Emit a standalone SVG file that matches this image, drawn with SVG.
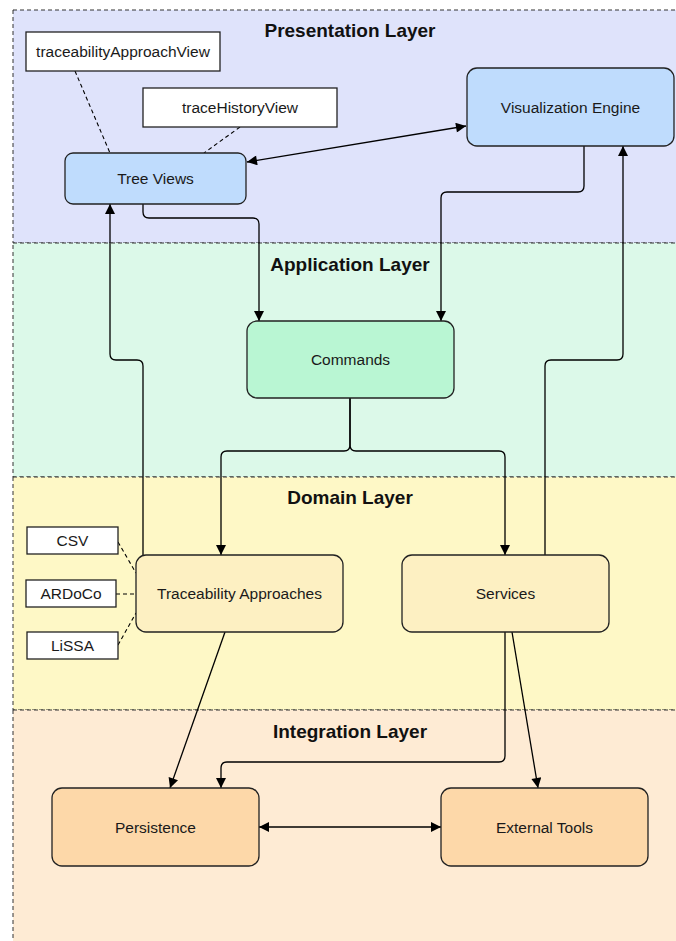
<svg xmlns="http://www.w3.org/2000/svg" width="676" height="941" viewBox="0 0 676 941">
  <style>
    .layer { stroke: #333; stroke-width: 1; stroke-dasharray: 4 3; }
    .title { font-family: "Liberation Sans", Arial, sans-serif; font-size: 19px; font-weight: bold; fill: #111; text-anchor: middle; }
    .node { stroke: #222; stroke-width: 1.3; }
    .label { font-family: "Liberation Sans", Arial, sans-serif; font-size: 15.5px; fill: #1a1a1a; text-anchor: middle; dominant-baseline: central; }
    .note { fill: #fff; stroke: #222; stroke-width: 1.3; }
    .edge { fill: none; stroke: #000; stroke-width: 1.3; }
    .dash { fill: none; stroke: #000; stroke-width: 1.1; stroke-dasharray: 4 3; }
    .blue { fill: #bfdcfd; }
    .green { fill: #b9f6d3; }
    .yellow { fill: #fdf0c2; }
    .orange { fill: #fdd8a9; }
  </style>
  <defs>
    <marker id="arrow" viewBox="0 0 10 10" refX="10" refY="5" markerWidth="12" markerHeight="10" markerUnits="userSpaceOnUse" orient="auto-start-reverse">
      <path d="M0,0 L10,5 L0,10 z" fill="#000"/>
    </marker>
  </defs>

  <!-- layer bands -->
  <g id="layers">
    <rect class="layer" x="13" y="10" width="700" height="233" fill="#dfe3fb"/>
    <rect class="layer" x="13" y="243" width="700" height="234" fill="#dcf9e9"/>
    <rect class="layer" x="13" y="477" width="700" height="233" fill="#fef8c6"/>
    <rect class="layer" x="13" y="710" width="700" height="240" fill="#feebd4"/>
    <text class="title" x="350" y="37">Presentation Layer</text>
    <text class="title" x="350" y="271">Application Layer</text>
    <text class="title" x="350" y="504">Domain Layer</text>
    <text class="title" x="350" y="738">Integration Layer</text>
  </g>

  <!-- connectors -->
  <g id="connectors">
    <line class="dash" x1="75" y1="71" x2="110" y2="153"/>
    <line class="dash" x1="240" y1="127" x2="204" y2="153"/>
    <line class="dash" x1="118" y1="542" x2="136" y2="573"/>
    <line class="dash" x1="116" y1="594" x2="136" y2="594"/>
    <line class="dash" x1="118" y1="645" x2="136" y2="613"/>

    <path class="edge" d="M247,162 L466,126" marker-start="url(#arrow)" marker-end="url(#arrow)"/>
    <path class="edge" d="M143,204 V212 Q143,218 149,218 H253 Q259,218 259,224 V321" marker-end="url(#arrow)"/>
    <path class="edge" d="M584,146 V186 Q584,192 578,192 H447 Q441,192 441,198 V321" marker-end="url(#arrow)"/>
    <path class="edge" d="M350,398 V445 Q350,451 344,451 H227 Q221,451 221,457 V555" marker-end="url(#arrow)"/>
    <path class="edge" d="M350,398 V445 Q350,451 356,451 H499 Q505,451 505,457 V555" marker-end="url(#arrow)"/>
    <path class="edge" d="M143,555 V366 Q143,360 137,360 H116 Q110,360 110,354 V204" marker-end="url(#arrow)"/>
    <path class="edge" d="M545,555 V366 Q545,360 551,360 H617 Q623,360 623,354 V146" marker-end="url(#arrow)"/>
    <path class="edge" d="M225,632 L170,788" marker-end="url(#arrow)"/>
    <path class="edge" d="M505,632 V756 Q505,762 499,762 H227 Q221,762 221,768 V788" marker-end="url(#arrow)"/>
    <path class="edge" d="M512,632 L538,788" marker-end="url(#arrow)"/>
    <path class="edge" d="M259,827 H441" marker-start="url(#arrow)" marker-end="url(#arrow)"/>
  </g>

  <!-- presentation layer nodes -->
  <g id="traceabilityApproachView">
    <rect class="note" x="26" y="32" width="194" height="39"/>
    <text class="label" x="123" y="51.5">traceabilityApproachView</text>
  </g>
  <g id="traceHistoryView">
    <rect class="note" x="143" y="88" width="194" height="39"/>
    <text class="label" x="240" y="107.5">traceHistoryView</text>
  </g>
  <g id="tree-views">
    <rect class="node blue" x="65" y="153" width="181" height="51" rx="8"/>
    <text class="label" x="155.5" y="178.5">Tree Views</text>
  </g>
  <g id="visualization-engine">
    <rect class="node blue" x="467" y="68" width="207" height="78" rx="10"/>
    <text class="label" x="570.5" y="107">Visualization Engine</text>
  </g>

  <!-- application layer nodes -->
  <g id="commands">
    <rect class="node green" x="247" y="321" width="207" height="77" rx="10"/>
    <text class="label" x="350.5" y="359.5">Commands</text>
  </g>

  <!-- domain layer nodes -->
  <g id="csv">
    <rect class="note" x="27" y="527" width="91" height="27"/>
    <text class="label" x="72.5" y="540.5">CSV</text>
  </g>
  <g id="ardoco">
    <rect class="note" x="26" y="580" width="90" height="27"/>
    <text class="label" x="71" y="593.5">ARDoCo</text>
  </g>
  <g id="lissa">
    <rect class="note" x="27" y="632" width="91" height="27"/>
    <text class="label" x="72.5" y="645.5">LiSSA</text>
  </g>
  <g id="traceability-approaches">
    <rect class="node yellow" x="136" y="555" width="207" height="77" rx="10"/>
    <text class="label" x="239.5" y="593.5">Traceability Approaches</text>
  </g>
  <g id="services">
    <rect class="node yellow" x="402" y="555" width="207" height="77" rx="10"/>
    <text class="label" x="505.5" y="593.5">Services</text>
  </g>

  <!-- integration layer nodes -->
  <g id="persistence">
    <rect class="node orange" x="52" y="788" width="207" height="78" rx="10"/>
    <text class="label" x="155.5" y="827">Persistence</text>
  </g>
  <g id="external-tools">
    <rect class="node orange" x="441" y="788" width="207" height="78" rx="10"/>
    <text class="label" x="544.5" y="827">External Tools</text>
  </g>
</svg>
